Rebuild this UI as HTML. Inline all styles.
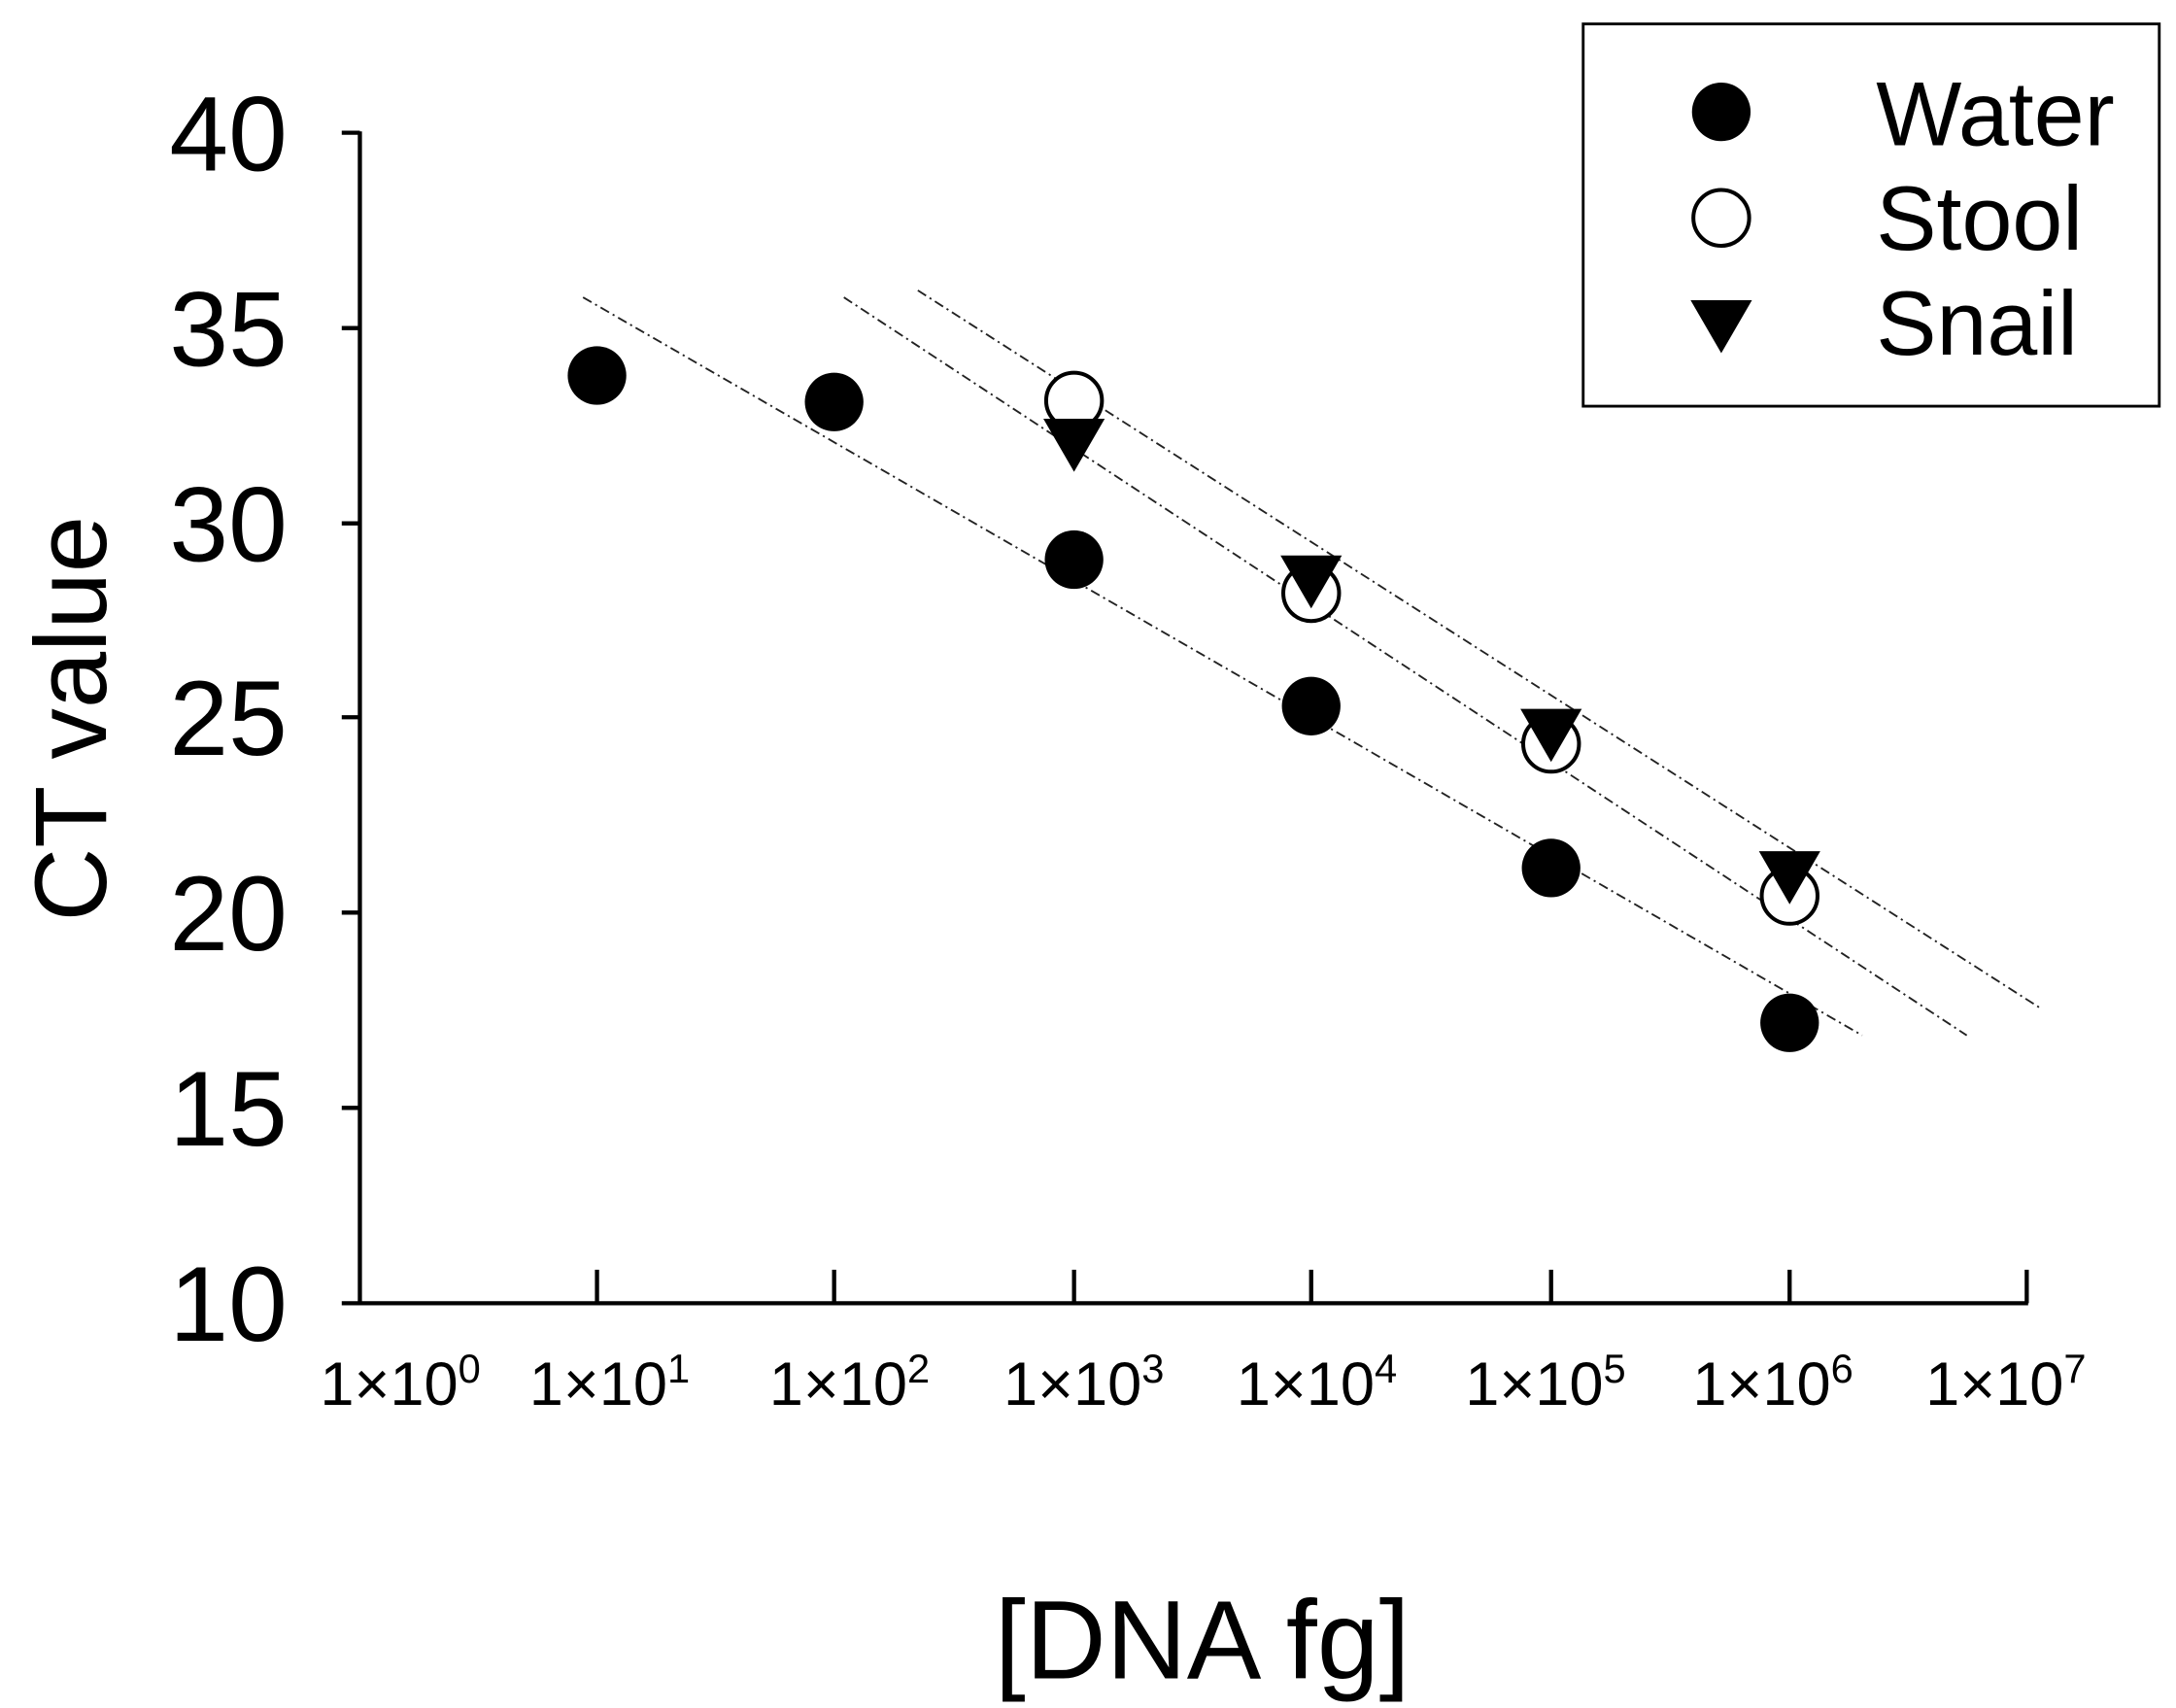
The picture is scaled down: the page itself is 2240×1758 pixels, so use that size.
<!DOCTYPE html>
<html><head><meta charset="utf-8"><style>
html,body{margin:0;padding:0;background:#fff;}
svg{display:block;}
text{font-family:"Liberation Sans",Arial,sans-serif;fill:#000;}
</style></head><body>
<svg width="2240" height="1758" viewBox="0 0 1560 1224" xmlns="http://www.w3.org/2000/svg">
<rect width="1560" height="1224" fill="#fff"/>
<g stroke="#222" stroke-width="1.3" fill="none" stroke-dasharray="7,3,1.5,3">
<line x1="418" y1="213" x2="1335" y2="742"/>
<line x1="605" y1="213" x2="1410" y2="742"/>
<line x1="658" y1="208" x2="1462" y2="722"/>
</g>
<g stroke="#000" stroke-width="3" fill="none">
<line x1="258" y1="94" x2="258" y2="935"/>
<line x1="257" y1="934" x2="1454" y2="934"/>
<line x1="245" y1="95" x2="258" y2="95"/>
<line x1="245" y1="235" x2="258" y2="235"/>
<line x1="245" y1="375" x2="258" y2="375"/>
<line x1="245" y1="514" x2="258" y2="514"/>
<line x1="245" y1="654" x2="258" y2="654"/>
<line x1="245" y1="794" x2="258" y2="794"/>
<line x1="245" y1="934" x2="258" y2="934"/>
<line x1="428" y1="910" x2="428" y2="934"/>
<line x1="598" y1="910" x2="598" y2="934"/>
<line x1="770" y1="910" x2="770" y2="934"/>
<line x1="940" y1="910" x2="940" y2="934"/>
<line x1="1112" y1="910" x2="1112" y2="934"/>
<line x1="1283" y1="910" x2="1283" y2="934"/>
<line x1="1453" y1="910" x2="1453" y2="934"/>
</g>
<g font-size="76" text-anchor="end">
<text x="206" y="122">40</text>
<text x="206" y="262">35</text>
<text x="206" y="402">30</text>
<text x="206" y="541">25</text>
<text x="206" y="681">20</text>
<text x="206" y="821">15</text>
<text x="206" y="961">10</text>
</g>
<g font-size="44" text-anchor="middle">
<text x="287" y="1007">1×10<tspan font-size="29" dy="-16">0</tspan></text>
<text x="437" y="1007">1×10<tspan font-size="29" dy="-16">1</tspan></text>
<text x="609" y="1007">1×10<tspan font-size="29" dy="-16">2</tspan></text>
<text x="777" y="1007">1×10<tspan font-size="29" dy="-16">3</tspan></text>
<text x="944" y="1007">1×10<tspan font-size="29" dy="-16">4</tspan></text>
<text x="1108" y="1007">1×10<tspan font-size="29" dy="-16">5</tspan></text>
<text x="1271" y="1007">1×10<tspan font-size="29" dy="-16">6</tspan></text>
<text x="1438" y="1007">1×10<tspan font-size="29" dy="-16">7</tspan></text>
</g>
<text x="862" y="1203" font-size="80" text-anchor="middle">[DNA fg]</text>
<text transform="translate(76,515) rotate(-90)" font-size="73" text-anchor="middle">CT value</text>
<g fill="#000">
<circle cx="428" cy="269" r="21"/>
<circle cx="598" cy="288" r="21"/>
<circle cx="770" cy="401" r="21"/>
<circle cx="940" cy="506" r="21"/>
<circle cx="1112" cy="622" r="21"/>
<circle cx="1283" cy="733" r="21"/>
</g>
<g fill="#fff" stroke="#000" stroke-width="2.8">
<circle cx="770" cy="287" r="20"/>
<circle cx="940" cy="425" r="20"/>
<circle cx="1112" cy="533" r="20"/>
<circle cx="1283" cy="642" r="20"/>
</g>
<g fill="#000">
<polygon points="748,300 792,300 770,338"/>
<polygon points="918,398 962,398 940,436"/>
<polygon points="1090,508 1134,508 1112,546"/>
<polygon points="1261,610 1305,610 1283,648"/>
</g>
<rect x="1135" y="17" width="413" height="274" fill="#fff" stroke="#000" stroke-width="2"/>
<circle cx="1234" cy="80" r="21" fill="#000"/>
<circle cx="1234" cy="156" r="20" fill="#fff" stroke="#000" stroke-width="2.8"/>
<polygon points="1212,215 1256,215 1234,253" fill="#000"/>
<g font-size="65">
<text x="1345" y="104">Water</text>
<text x="1345" y="179">Stool</text>
<text x="1345" y="254">Snail</text>
</g>
</svg>
</body></html>
